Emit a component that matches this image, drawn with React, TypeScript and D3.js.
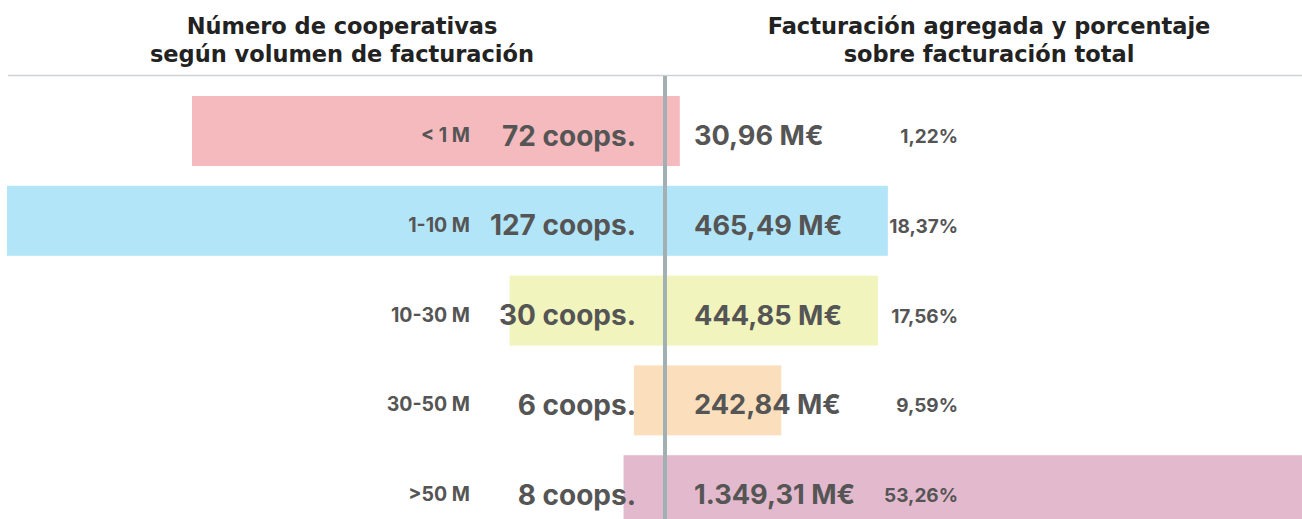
import React from "react";
import * as d3 from "d3";

const categories = ["< 1 M", "1-10 M", "10-30 M", "30-50 M", ">50 M"];
const coops = [72, 127, 30, 6, 8];
// bar lengths as drawn in the reference (the first bar is drawn longer than its label)
const coopsBar = [91.3, 127, 30, 6, 8];
const facturacion = [30.96, 465.49, 444.85, 242.84, 1349.31];
const porcentaje = [1.22, 18.37, 17.56, 9.59, 53.26];
const colors = ["#f4babe", "#b3e5f8", "#f1f5bd", "#fbdfbd", "#e3bacd"];
const titlesLeft = ["Número de cooperativas", "según volumen de facturación"];
const titlesRight = ["Facturación agregada y porcentaje", "sobre facturación total"];

const W = 1302;
const H = 519;
const CX = 665;
const FONT = "Inter, 'Open Sans', sans-serif";
const TITLE_FONT = "'DejaVu Sans', Verdana, sans-serif";
const TXT = "#555555";

const fmtEs = (v: number) => {
  const [i, d] = v.toFixed(2).split(".");
  const ii = i.replace(/\B(?=(\d{3})+(?!\d))/g, ".");
  return `${ii},${d}`;
};

export default function App() {
  const xLeft = d3.scaleLinear().domain([0, 127]).range([CX, 7]);
  const xRight = d3.scaleLinear().domain([0, 1349.31]).range([CX, 1311]);
  const step = 89.8;
  const y = d3
    .scaleBand<string>()
    .domain(categories)
    .range([86.1, 86.1 + step * categories.length])
    .paddingInner(19.8 / step)
    .paddingOuter(9.9 / step);
  const bw = y.bandwidth();

  return (
    <div style={{ position: "fixed", left: 0, top: 0, background: "#fff" }}>
      <svg width={W} height={H} style={{ display: "block" }} fontFamily={FONT}>
        <rect width={W} height={H} fill="#fff" />
        <g fontFamily={TITLE_FONT} fontWeight={700} fontSize={22.5} fill="#222" textAnchor="middle">
          {titlesLeft.map((t, i) => (
            <text key={t} x={342} y={34 + i * 27.5}>{t}</text>
          ))}
          {titlesRight.map((t, i) => (
            <text key={t} x={989} y={34 + i * 27.5}>{t}</text>
          ))}
        </g>
        <line x1={8} x2={W} y1={75.5} y2={75.5} stroke="#cdd2d5" strokeWidth={1.5} />
        {categories.map((c, i) => {
          const y0 = y(c)!;
          return (
            <g key={c}>
              <rect
                x={xLeft(coopsBar[i])}
                y={y0}
                width={CX - xLeft(coopsBar[i])}
                height={bw}
                fill={colors[i]}
              />
              <rect
                x={CX}
                y={y0}
                width={xRight(facturacion[i]) - CX}
                height={bw}
                fill={colors[i]}
              />
            </g>
          );
        })}
        <line x1={CX} x2={CX} y1={76} y2={H} stroke="#a3b0b3" strokeWidth={4} />
        {categories.map((c, i) => {
          const y0 = y(c)!;
          return (
            <g key={"t" + c} fill={TXT} fontWeight={700}>
              <text x={470} y={y0 + 46} textAnchor="end" fontSize={19.5}>
                {c}
              </text>
              <text x={636} y={y0 + 49.5} textAnchor="end" fontSize={28}>
                {`${coops[i]} coops.`}
              </text>
              <text x={694} y={y0 + 49} textAnchor="start" fontSize={27.2}>
                {`${fmtEs(facturacion[i])} M€`}
              </text>
              <text x={958} y={y0 + 47} textAnchor="end" fontSize={19}>
                {`${fmtEs(porcentaje[i])}%`}
              </text>
            </g>
          );
        })}
      </svg>
    </div>
  );
}
